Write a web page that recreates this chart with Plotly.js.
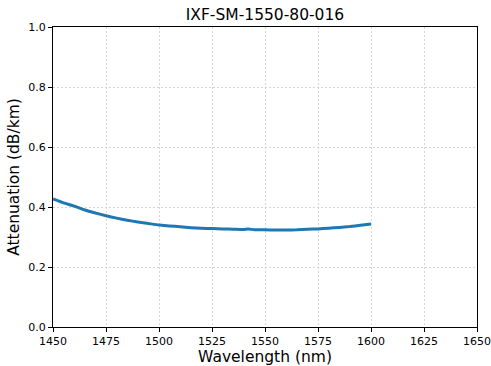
<!DOCTYPE html>
<html>
<head>
<meta charset="utf-8">
<script src="https://cdn.plot.ly/plotly-3.0.1.min.js"></script>
<style>html,body{margin:0;padding:0;background:#fff;}#chart{width:491px;height:366px;}</style>
</head>
<body>
<div id="chart"></div>
<script>
const wavelength = [1450,1455,1460,1465,1470,1475,1480,1485,1490,1495,1500,1505,1510,1515,1520,1525,1530,1535,1540,1542,1545,1550,1555,1560,1565,1570,1575,1580,1585,1590,1595,1600];
const attenuation = [0.427,0.414,0.403,0.390,0.380,0.371,0.363,0.356,0.350,0.345,0.340,0.337,0.334,0.331,0.329,0.328,0.327,0.326,0.325,0.327,0.324,0.324,0.323,0.323,0.324,0.326,0.327,0.329,0.332,0.335,0.339,0.343];
const xTicks = [1450,1475,1500,1525,1550,1575,1600,1625,1650];
const yTicks = [0,0.2,0.4,0.6,0.8,1.0];
const yTickText = ['0.0','0.2','0.4','0.6','0.8','1.0'];

const font = 'DejaVu Sans, sans-serif';
Plotly.newPlot('chart', [{
  x: wavelength, y: attenuation, type: 'scatter', mode: 'lines',
  line: {color: '#1f77b4', width: 3, shape: 'spline', smoothing: 0.6, simplify: false}
}], {
  width: 491, height: 366,
  margin: {l: 53, r: 14, t: 27, b: 39},
  paper_bgcolor: '#fff', plot_bgcolor: '#fff',
  showlegend: false,
  title: {text: 'IXF-SM-1550-80-016', font: {family: font, size: 15.5, color: '#000'}, xref: 'paper', x: 0.5, xanchor: 'center', yref: 'container', y: 0.975, yanchor: 'top'},
  xaxis: {
    range: [1450, 1650], tickvals: xTicks, ticks: 'outside', ticklen: 4, tickcolor: '#000',
    showline: true, linecolor: '#000', linewidth: 1, mirror: true,
    showgrid: true, gridcolor: '#cccccc', griddash: '2px,2px', gridwidth: 0.8, zeroline: false,
    tickfont: {family: font, size: 11, color: '#000'},
    title: {text: 'Wavelength (nm)', font: {family: font, size: 15.5, color: '#000'}, standoff: 6}
  },
  yaxis: {
    range: [0, 1.0], tickvals: yTicks, ticktext: yTickText, ticks: 'outside', ticklen: 4, tickcolor: '#000',
    showline: true, linecolor: '#000', linewidth: 1, mirror: true,
    showgrid: true, gridcolor: '#cccccc', griddash: '2px,2px', gridwidth: 0.8, zeroline: false,
    tickfont: {family: font, size: 11, color: '#000'},
    title: {text: 'Attenuation (dB/km)', font: {family: font, size: 15.5, color: '#000'}, standoff: 4}
  }
}, {staticPlot: true, displayModeBar: false});
</script>
</body>
</html>
